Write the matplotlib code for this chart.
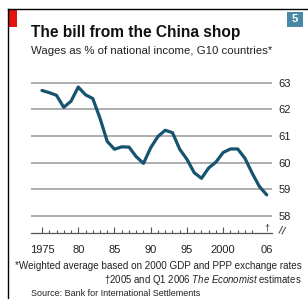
import matplotlib
matplotlib.use("Agg")
import matplotlib.pyplot as plt
from matplotlib.lines import Line2D
from matplotlib.patches import Rectangle

plt.rcParams["mathtext.fontset"] = "custom"
plt.rcParams["mathtext.it"] = "Liberation Sans:italic"
plt.rcParams["mathtext.rm"] = "Liberation Sans"

# ---- data ----
years = list(range(1975, 2007))
wages = [62.70, 62.62, 62.52, 62.07, 62.30, 62.83, 62.54, 62.40, 61.66, 60.79,
         60.50, 60.59, 60.58, 60.22, 59.97, 60.56, 60.98, 61.21, 61.12, 60.50,
         60.12, 59.62, 59.41, 59.80, 60.02, 60.38, 60.51, 60.51, 60.16, 59.60,
         59.10, 58.79]
ytick_vals = [58, 59, 60, 61, 62, 63]
xtick_vals = [1975, 1980, 1985, 1990, 1995, 2000, 2006]
xtick_labels = ["1975", "80", "85", "90", "95", "2000", "06"]
minor_years = [y for y in range(1976, 2006) if y % 5 != 0]

title = "The bill from the China shop"
subtitle = "Wages as % of national income, G10 countries*"
note1 = "*Weighted average based on 2000 GDP and PPP exchange rates"
source = "Source: Bank for International Settlements"

W, H = 308, 299
fig = plt.figure(figsize=(W / 100, H / 100), dpi=100)
fig.patch.set_facecolor("white")

def fx(x):
    return x / W

def fy(y):
    return 1 - y / H

FONT = ["Liberation Sans", "DejaVu Sans"]

# axes placement
ax_left, ax_right = 31, 272
ax_top, ax_bot = 74.5, 232.5
ax = fig.add_axes([fx(ax_left), fy(ax_bot), fx(ax_right - ax_left), (ax_bot - ax_top) / H])
ax.set_xlim(1973.48, 2006.73)
ax.set_ylim(57.38, 63.3)

for v in ytick_vals:
    ax.axhline(v, color="#a0a0a0", lw=1.2, zorder=1)

ax.plot(years, wages, color="#15536e", lw=2.3, solid_joinstyle="round",
        solid_capstyle="round", zorder=3)

for s in ["top", "left", "right"]:
    ax.spines[s].set_visible(False)
ax.spines["bottom"].set_color("#555555")
ax.spines["bottom"].set_linewidth(0.9)

ax.set_yticks(ytick_vals)
ax.yaxis.tick_right()
ax.tick_params(axis="y", length=0, pad=4.5, labelsize=8, labelcolor="#222222")

ax.set_xticks(xtick_vals)
ax.set_xticklabels(xtick_labels)
ax.set_xticks(minor_years, minor=True)
ax.tick_params(axis="x", which="major", direction="in", length=4, width=0.8,
               color="#555555", pad=9, labelsize=8, labelcolor="#222222")
ax.tick_params(axis="x", which="minor", direction="in", length=2, width=0.8,
               color="#555555")
ax.xaxis.get_major_ticks()[-1].tick1line.set_visible(False)
for lab in ax.get_xticklabels() + ax.get_yticklabels():
    lab.set_family(FONT)

# dagger on axis at 2006
ax.text(2006, 57.38, "†", ha="center", va="bottom", fontsize=6.5,
        color="#222222", family=FONT)

# axis break marks
fig.add_artist(Line2D([fx(279), fx(282.5)], [fy(233), fy(226.5)], color="#555555", lw=0.8))
fig.add_artist(Line2D([fx(282), fx(285.5)], [fy(234), fy(227.5)], color="#555555", lw=0.8))

# frame lines
fig.add_artist(Line2D([fx(8), fx(308)], [fy(9.3), fy(9.3)], color="black", lw=1.0))
fig.add_artist(Line2D([fx(8.3), fx(8.3)], [fy(9.3), fy(299)], color="black", lw=1.0))
fig.add_artist(Rectangle((fx(9), fy(27)), fx(7.7), (27 - 10) / H, color="#e3120b", lw=0))

# number box
fig.add_artist(Rectangle((fx(287), fy(26.5)), fx(16), 14.5 / H, color="#4a89a6", lw=0))
fig.text(fx(295), fy(19.5), "5", color="white", ha="center", va="center",
         fontsize=8, fontweight="bold", family=FONT)

# texts
fig.text(fx(31), fy(37), title, fontsize=11.2, fontweight="bold", family=FONT,
         color="#111111", va="baseline", ha="left")
fig.text(fx(31), fy(54.5), subtitle, fontsize=8.2, family=FONT, color="#222222",
         va="baseline", ha="left")
fig.text(fx(15), fy(269), note1, fontsize=7.1, family=FONT, color="#222222",
         va="baseline", ha="left")
fig.text(fx(302), fy(283), "†2005 and Q1 2006 $\\it{The\\ Economist}$ estimates",
         fontsize=6.9, family=FONT, color="#222222", va="baseline", ha="right")
fig.text(fx(31), fy(296), source, fontsize=6.5, family=FONT, color="#222222",
         va="baseline", ha="left")

fig.savefig("out.png", dpi=100, facecolor="white")
